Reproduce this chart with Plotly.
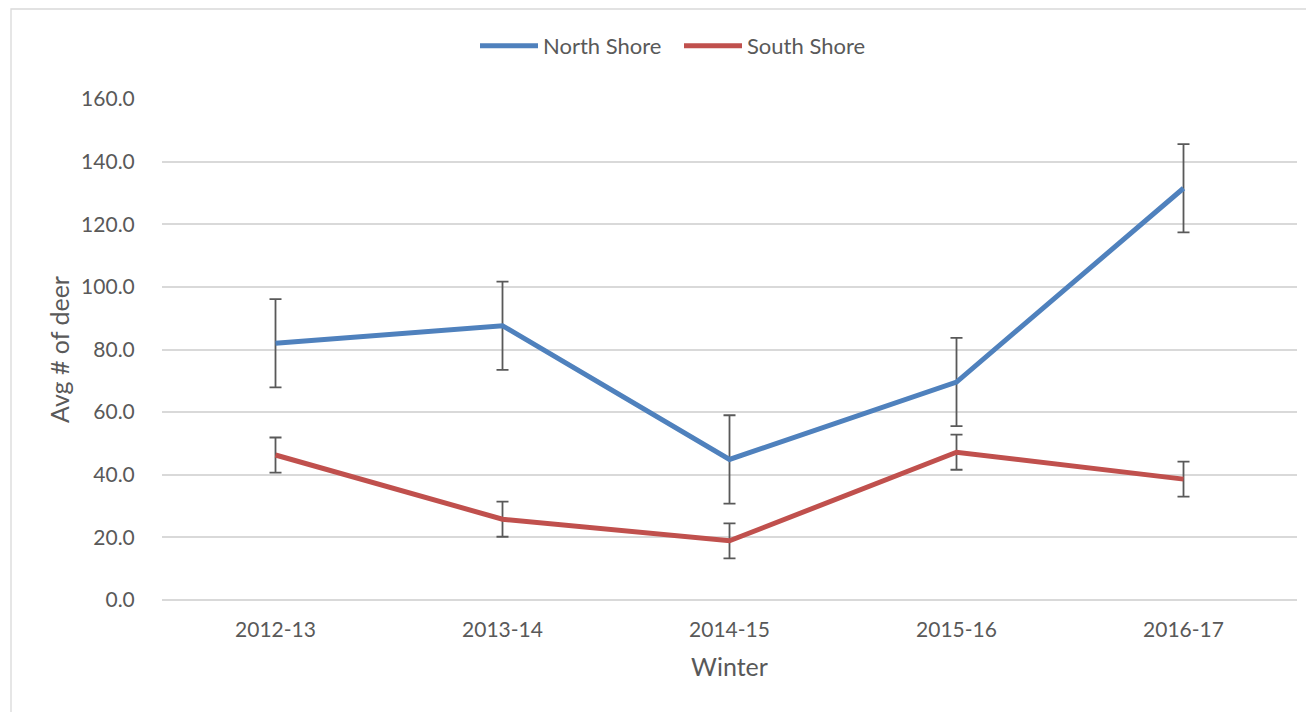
import plotly.graph_objects as go

winters = ["2012-13", "2013-14", "2014-15", "2015-16", "2016-17"]
north_shore = [82.0, 87.6, 44.9, 69.6, 131.5]
north_err = [14.1, 14.1, 14.1, 14.1, 14.1]
south_shore = [46.3, 25.8, 18.9, 47.2, 38.6]
south_err = [5.6, 5.6, 5.6, 5.6, 5.6]
y_ticks = [0, 20, 40, 60, 80, 100, 120, 140, 160]

# page body has an 8px margin, so figure coords = page coords - 8
W, H = 1306, 704
L, R, T, B = 154, 17, 91, 112
pw, ph = W - L - R, H - T - B

font_family = "Lato, 'Liberation Sans', sans-serif"
txt = "#595959"

fig = go.Figure()
fig.add_trace(go.Scatter(
    x=winters, y=north_shore, name="North Shore", mode="lines",
    line=dict(color="#4f81bd", width=5),
    error_y=dict(type="data", array=north_err, visible=True,
                 color="#595959", thickness=1.8, width=6),
))
fig.add_trace(go.Scatter(
    x=winters, y=south_shore, name="South Shore", mode="lines",
    line=dict(color="#c0504d", width=5),
    error_y=dict(type="data", array=south_err, visible=True,
                 color="#595959", thickness=1.8, width=6),
))

fig.update_layout(
    width=W, height=H,
    margin=dict(l=L, r=R, t=T, b=B, autoexpand=False),
    paper_bgcolor="white", plot_bgcolor="white",
    font=dict(family=font_family, size=21, color=txt),
    showlegend=True,
    legend=dict(orientation="h", x=(672 - 8 + 7 - L) / pw, y=(H - B - 38) / ph,
                xanchor="center", yanchor="middle",
                font=dict(size=22, color=txt), itemwidth=58,
                entrywidth=131, entrywidthmode="pixels",
                bgcolor="rgba(0,0,0,0)"),
    xaxis=dict(
        type="category", range=[-0.5, 4.5],
        showgrid=False, showline=False, zeroline=False,
        ticks="outside", ticklen=11, tickcolor="rgba(0,0,0,0)",
        tickfont=dict(size=21, color=txt),
        title=dict(text="Winter", font=dict(size=25, color=txt), standoff=18),
    ),
    yaxis=dict(
        range=[0, 160], tickvals=y_ticks,
        ticktext=[f"{v:.1f}" for v in y_ticks],
        showgrid=True, gridcolor="#d9d9d9", gridwidth=1.5,
        zeroline=True, zerolinecolor="#d9d9d9", zerolinewidth=1.5,
        showline=False,
        ticks="outside", ticklen=22, tickcolor="rgba(0,0,0,0)",
        tickfont=dict(size=21, color=txt),
        title=dict(text="Avg # of deer", font=dict(size=25, color=txt), standoff=4),
    ),
    shapes=[dict(
        type="rect", xref="paper", yref="paper",
        x0=(3 - L) / pw, x1=(W + 20 - L) / pw,
        y0=(H - B - (H + 20)) / ph, y1=(H - B - 1) / ph,
        line=dict(color="#d9d9d9", width=1.3), fillcolor="rgba(0,0,0,0)",
        layer="below",
    )],
)

fig.write_html("out.html")
